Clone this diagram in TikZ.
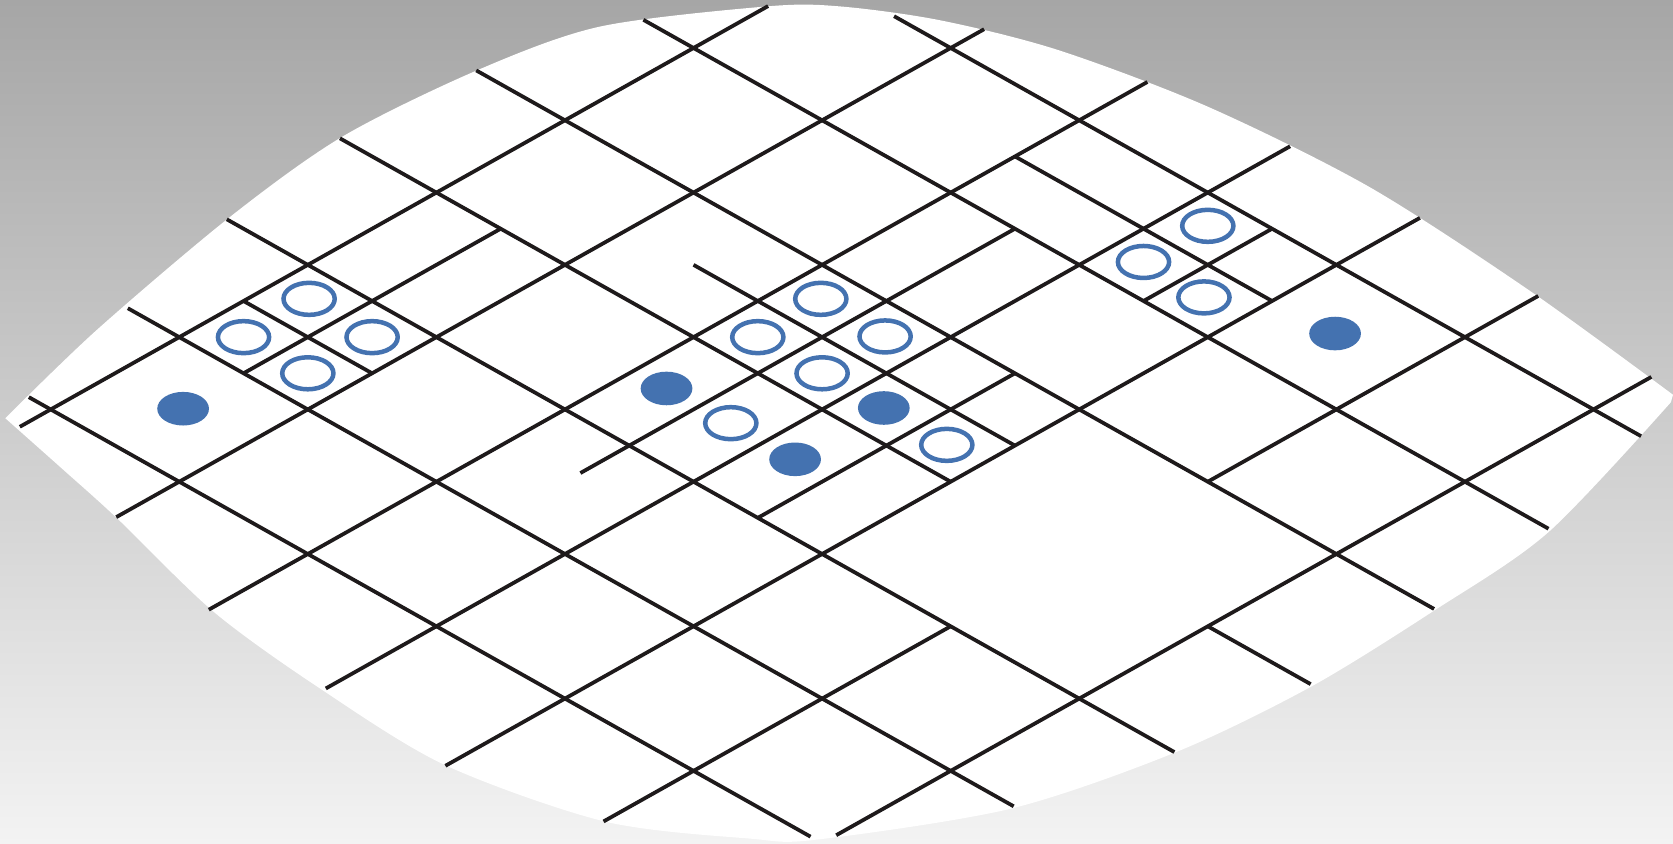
\documentclass[tikz,border=0pt]{standalone}
\usetikzlibrary{shapes.geometric}

\definecolor{bgtop}{RGB}{166,166,166}
\definecolor{bgbottom}{RGB}{243,243,243}
\definecolor{dotblue}{RGB}{68,114,176}
\definecolor{linegray}{RGB}{30,26,27}

\begin{document}
\begin{tikzpicture}[
			x=0.1mm, y=-0.1mm,
			every node/.style={ellipse, inner sep=0pt, minimum width=4.8mm, minimum height=3mm},
			hole/.style={draw=dotblue, line width=1.2pt},
			dot/.style={fill=dotblue, minimum width=4.85mm, minimum height=3.15mm},
			wire/.style={draw=linegray, line width=1pt}
			]
			\shade[top color=bgtop, bottom color=bgbottom] (0,0) rectangle (1568,791);
			\useasboundingbox (0,0) rectangle (1568,791);
			% lens
			\fill[white] plot[smooth] coordinates {(5,392) (91,309) (216,203) (321,128) (447,66) (562,25) (719,6) (787,6) (881,19) (992,47) (1132,100) (1283,175) (1433,272) (1568,370)}
				-- plot[smooth] coordinates {(1566,377) (1451,499) (1343,573) (1228,644) (1102,705) (947,758) (765,787) (703,786) (567,770) (417,717) (301,646) (201,574) (110,486) (59,440) (5,392)} -- cycle;
			\begin{scope}[shift={(650,45)}, x={(1.205cm,-0.6775cm)}, y={(-1.205cm,-0.6775cm)}]
			% down-right lines
			\draw[wire] (0.56,-1) -- (6.37,-1);
			\draw[wire] (2,-0.5) -- (4,-0.5);
			\draw[wire] (-0.39,0) -- (6.65,0);
			\draw[wire] (-0.69,1) -- (6.76,1);
			\draw[wire] (1.5,1.5) -- (4,1.5);
			\draw[wire] (-0.75,2) -- (4,2);
			\draw[wire] (6,2) -- (6.8,2);
			\draw[wire] (-0.63,3) -- (6.74,3);
			\draw[wire] (0,3.5) -- (1,3.5);
			\draw[wire] (-0.4,4) -- (6.49,4);
			\draw[wire] (-0.17,5) -- (5.91,5);
			% up-right lines
			\draw[wire] (0,5.24) -- (0,-0.58);
			\draw[wire] (0.5,4) -- (0.5,2);
			\draw[wire] (1,5.49) -- (1,-1.26);
			\draw[wire] (2,5.77) -- (2,-1.53);
			\draw[wire] (2.5,3.38) -- (2.5,0);
			\draw[wire] (3,5.86) -- (3,-1.64);
			\draw[wire] (3.5,0) -- (3.5,-1);
			\draw[wire] (3.5,3) -- (3.5,1);
			\draw[wire] (4,5.93) -- (4,-1.65);
			\draw[wire] (5,1) -- (5,-1.57);
			\draw[wire] (5,5.7) -- (5,3);
			\draw[wire] (6,4.89) -- (6,-1.45);
			% markers
			\node[hole] (h1) at (0.24,3.23) {};
			\node[hole] (h2) at (0.25,3.75) {};
			\node[hole] (h3) at (0.75,3.25) {};
			\node[hole] (h4) at (0.75,3.75) {};
			\node[dot] (d1) at (0.51,4.48) {};
			\node[hole] (h5) at (2.23,1.24) {};
			\node[hole] (h6) at (2.25,1.75) {};
			\node[hole] (h7) at (2.74,1.25) {};
			\node[hole] (h8) at (2.75,1.75) {};
			\node[hole] (h9) at (2.74,2.45) {};
			\node[hole] (h10) at (3.73,1.76) {};
			\node[dot] (d2) at (2.25,2.46) {};
			\node[dot] (d3) at (3.23,1.75) {};
			\node[dot] (d4) at (3.24,2.45) {};
			\node[hole] (h11) at (3.23,-0.77) {};
			\node[hole] (h12) at (3.23,-0.27) {};
			\node[hole] (h13) at (3.71,-0.26) {};
			\node[dot] (d5) at (4.47,-0.52) {};
			\end{scope}
		\end{tikzpicture}
\end{document}
